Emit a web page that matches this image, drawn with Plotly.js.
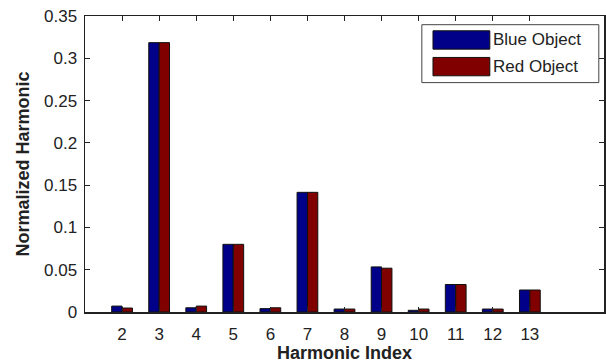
<!DOCTYPE html>
<html>
<head>
<meta charset="utf-8">
<script src="https://cdn.plot.ly/plotly-3.0.1.min.js"></script>
<style>html,body{margin:0;padding:0;background:#fff;}#chart{width:606px;height:363px;}</style>
</head>
<body>
<div id="chart"></div>
<script>
const harmonicIndex = [2, 3, 4, 5, 6, 7, 8, 9, 10, 11, 12, 13];
const tickLabels = ['2', '3', '4', '5', '6', '7', '8', '9', '10', '11', '12', '13'];
const blueObject = [0.007, 0.3185, 0.005, 0.080, 0.004, 0.1415, 0.0035, 0.0533, 0.002, 0.0325, 0.0035, 0.026];
const redObject  = [0.0047, 0.3185, 0.007, 0.080, 0.005, 0.1415, 0.0035, 0.0518, 0.0035, 0.0325, 0.0035, 0.026];
const seriesNames = ['Blue Object', 'Red Object'];
const seriesColors = ['#000088', '#800000'];

const traces = [blueObject, redObject].map((vals, i) => ({
  type: 'bar',
  x: harmonicIndex,
  y: vals,
  name: seriesNames[i],
  marker: {color: seriesColors[i], line: {color: '#111', width: 1}},
  showlegend: false
}));

const fam = 'Liberation Sans, Arial, sans-serif';
const font = {family: fam, size: 17, color: '#222'};
const titleFont = {family: fam, size: 18, color: '#222', weight: 'bold'};

// custom legend (MATLAB-style wide swatches)
const shapes = [
  {type: 'rect', xref: 'paper', yref: 'paper', x0: 0.649, x1: 0.990, y0: 0.775, y1: 0.9706,
   line: {color: '#444', width: 1}, fillcolor: '#fff', layer: 'above'}
];
const annotations = [];
const legendY = [0.919, 0.829];
seriesNames.forEach((n, i) => {
  const yc = legendY[i];
  shapes.push({type: 'rect', xref: 'paper', yref: 'paper', x0: 0.6705, x1: 0.780,
    y0: yc - 0.031, y1: yc + 0.031, fillcolor: seriesColors[i], line: {color: '#111', width: 1}, layer: 'above'});
  annotations.push({xref: 'paper', yref: 'paper', x: 0.785, y: yc, xanchor: 'left', yanchor: 'middle',
    text: n, showarrow: false, borderpad: 0, font: {family: fam, size: 17, color: '#222'}});
});

const layout = {
  width: 606, height: 363,
  margin: {l: 85, r: 2, t: 16, b: 51},
  paper_bgcolor: '#fff', plot_bgcolor: '#fff',
  font: font,
  barmode: 'group',
  bargap: 0.44, bargroupgap: 0,
  xaxis: {
    range: [1, 15], tickvals: harmonicIndex, ticktext: tickLabels,
    ticks: 'inside', ticklen: 5, tickcolor: '#222', tickwidth: 1,
    showline: true, linecolor: '#222', linewidth: 1.5, mirror: 'ticks',
    showgrid: false, zeroline: false,
    ticklabelstandoff: 6,
    title: {text: 'Harmonic Index', font: titleFont, standoff: 0}
  },
  yaxis: {
    range: [0, 0.35], dtick: 0.05, tick0: 0,
    ticks: 'inside', ticklen: 5, tickcolor: '#222', tickwidth: 1,
    showline: true, linecolor: '#222', linewidth: 1.5, mirror: 'ticks',
    showgrid: false, zeroline: false,
    ticklabelstandoff: 3,
    title: {text: 'Normalized Harmonic', font: titleFont, standoff: 9}
  },
  shapes: shapes,
  annotations: annotations
};

Plotly.newPlot('chart', traces, layout, {displayModeBar: false, staticPlot: true});
</script>
</body>
</html>
